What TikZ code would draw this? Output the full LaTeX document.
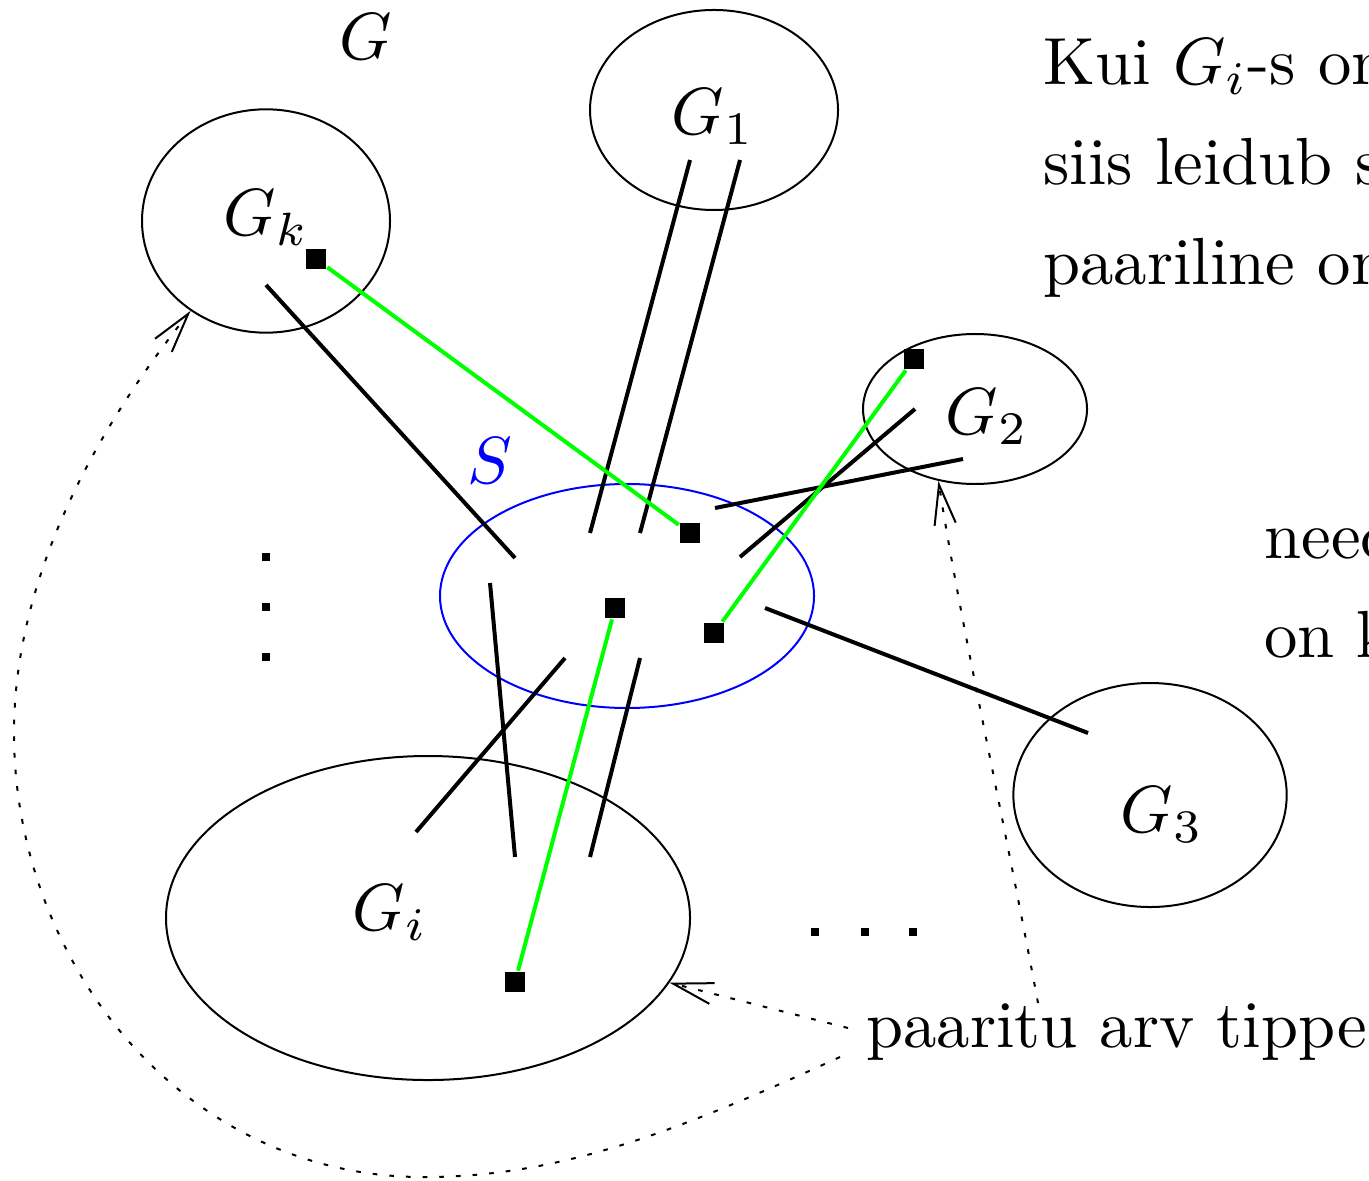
\documentclass[tikz,border=0pt]{standalone}
\usepackage{tikz}
\usetikzlibrary{shapes.geometric, arrows.meta, positioning}

\begin{document}
\begin{tikzpicture}[
    x=0.15pt, y=-0.15pt,
    part/.style={ellipse, draw, line width=0.3pt, inner sep=0pt},
    sepset/.style={ellipse, draw=blue, line width=0.3pt, inner sep=0pt},
    lbl/.style={anchor=base, inner sep=0pt},
    txt/.style={anchor=base west, inner sep=0pt},
    vtx/.style={rectangle, fill=black, minimum size=3pt, inner sep=0pt},
    dotmark/.style={rectangle, fill=black, minimum size=1.3pt, inner sep=0pt},
    cut/.style={line width=0.6pt},
    match/.style={line width=0.6pt, green},
    hint/.style={line width=0.3pt, dash pattern=on 0.7pt off 1.8pt, -{Straight Barb[length=6pt,width=3.2pt]}}
]
    \useasboundingbox (0,0) rectangle (1369,1180);
    \clip (0,0) rectangle (1369,1180);

    % Components and separator
    \node[part, minimum width=37.2pt, minimum height=33.5pt] (Gk) at (266,221) {};
    \node[part, minimum width=37.2pt, minimum height=30pt] (G1) at (714,110) {};
    \node[part, minimum width=33.6pt, minimum height=22.5pt] (G2) at (975,409) {};
    \node[part, minimum width=41pt, minimum height=33.6pt] (G3) at (1150,795) {};
    \node[part, minimum width=78.6pt, minimum height=48.6pt] (Gi) at (428,918) {};
    \node[sepset, minimum width=56.1pt, minimum height=33.6pt] (S) at (627,596) {};

    % Labels
    \node[lbl] (lG) at (366,60) {$G$};
    \node[lbl] (lGk) at (266,236) {$G_k$};
    \node[lbl] (lG1) at (713,135) {$G_1$};
    \node[lbl] (lG2) at (987,435) {$G_2$};
    \node[lbl] (lG3) at (1162,832) {$G_3$};
    \node[lbl] (lGi) at (390,930) {$G_i$};
    \node[lbl, text=blue] (lS) at (490,483) {$S$};

    % Edges to S
    \draw[cut] (266,285) -- (515,558);
    \draw[cut] (690,160) -- (590,533);
    \draw[cut] (740,160) -- (640,533);
    \draw[cut] (715,508) -- (963,459);
    \draw[cut] (740,557) -- (915,409);
    \draw[cut] (765,608) -- (1088,733);
    \draw[cut] (490,583) -- (515,857);
    \draw[cut] (565,658) -- (416,832);
    \draw[cut] (640,658) -- (590,857);

    % Matched vertices
    \node[vtx] (a1) at (316,259) {};
    \node[vtx] (a2) at (690,533) {};
    \node[vtx] (b1) at (914,359) {};
    \node[vtx] (b2) at (714,633) {};
    \node[vtx] (c1) at (615,608) {};
    \node[vtx] (c2) at (515,982) {};
    \draw[match] (a1) -- (a2);
    \draw[match] (b1) -- (b2);
    \draw[match] (c1) -- (c2);

    % Dots
    \foreach \y [count=\n] in {557,607,657}
        \node[dotmark] (v\n) at (266,\y) {};
    \foreach \x [count=\n] in {815,865,913}
        \node[dotmark] (h\n) at (\x,932) {};

    % Text
    \node[txt] (t1) at (1042,85) {Kui $G_i$-s on};
    \node[txt] (t2) at (1042,185) {siis leidub s};
    \node[txt] (t3) at (1042,285) {paariline on};
    \node[txt] (t4) at (1263,558) {need};
    \node[txt] (t5) at (1263,657) {on k};
    \node[txt] (odd) at (865,1047) {paaritu arv tippe};

    % Pointers
    \coordinate (s1) at (848,1028);
    \coordinate (s2) at (840,1057);
    \coordinate (s3) at (1038,1003);
    \draw[hint] (s1) -- (Gi.-15);
    \draw[hint] (s3) .. controls (1000,800) and (960,620) .. (G2.243);
    \draw[hint] (s2) .. controls (680,1130) and (560,1178) .. (420,1177)
        .. controls (180,1175) and (14,960) .. (14,733)
        .. controls (14,540) and (140,375) .. (Gk.230);
\end{tikzpicture}
\end{document}
